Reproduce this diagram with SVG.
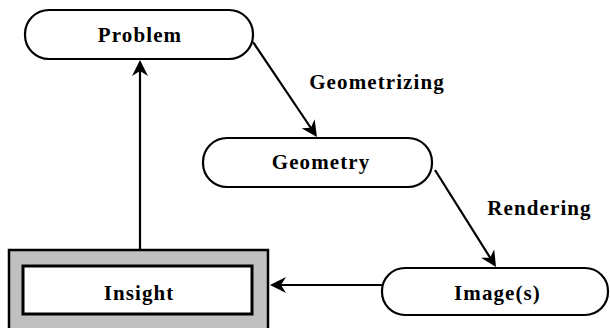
<svg xmlns="http://www.w3.org/2000/svg" width="610" height="328" viewBox="0 0 610 328">
<style>
.pill{fill:#fff;stroke:#000;stroke-width:2.2}
.lbl{font-family:"Liberation Serif","Times New Roman",serif;font-weight:bold;font-size:21px;letter-spacing:1.1px;text-anchor:middle;fill:#000}
.edge{stroke:#000;stroke-width:2.2;fill:none}
</style>
<defs>
<marker id="ah" viewBox="0 0 16 16" refX="10" refY="8" markerWidth="16" markerHeight="16" orient="auto" markerUnits="userSpaceOnUse">
<path d="M16,8 L0,0 L5,8 L0,16 Z" fill="#000"/>
</marker>
</defs>
<rect width="610" height="328" fill="#fff"/>
<g id="connectors">
<path class="edge" d="M253,42 L313.6,132" marker-end="url(#ah)"/>
<path class="edge" d="M435,170 L492.8,261.9" marker-end="url(#ah)"/>
<path class="edge" d="M382,285 L276,285" marker-end="url(#ah)"/>
<path class="edge" d="M140,250 L140,66" marker-end="url(#ah)"/>
</g>
<g id="problem">
<rect class="pill" x="25" y="10" width="228" height="49" rx="24"/>
<text class="lbl" x="140" y="42">Problem</text>
</g>
<g id="geometry">
<rect class="pill" x="203" y="138" width="229" height="49" rx="24"/>
<text class="lbl" x="321" y="169">Geometry</text>
</g>
<g id="images">
<rect class="pill" x="382" y="268" width="226" height="47" rx="23"/>
<text class="lbl" x="497.5" y="300">Image(s)</text>
</g>
<g id="insight">
<rect x="9" y="250" width="259" height="90" fill="#c0c0c0" stroke="#000" stroke-width="2.5"/>
<rect x="23" y="266" width="229" height="48" fill="#fff" stroke="#000" stroke-width="3"/>
<text class="lbl" x="139" y="300">Insight</text>
</g>
<g id="edge-labels">
<text class="lbl" x="377" y="89">Geometrizing</text>
<text class="lbl" x="539.5" y="215">Rendering</text>
</g>
</svg>
